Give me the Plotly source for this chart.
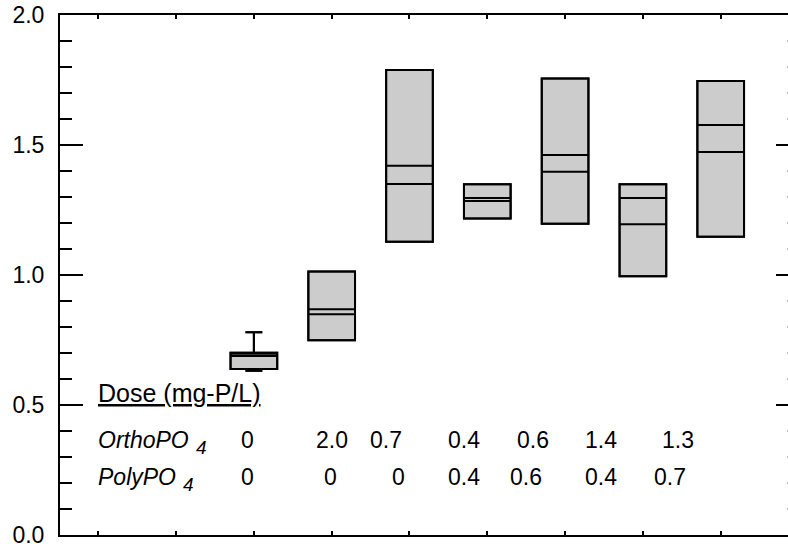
import plotly.graph_objects as go

# Treatment slots on the horizontal axis (one box per treatment)
slots = [2, 3, 4, 5, 6, 7, 8]

# Box statistics per treatment
q1 = [0.638, 0.749, 1.128, 1.217, 1.197, 0.995, 1.147]
q3 = [0.701, 1.013, 1.788, 1.349, 1.756, 1.349, 1.746]
center_upper = [0.700, 0.868, 1.420, 1.296, 1.462, 1.296, 1.577]
center_lower = [0.688, 0.849, 1.350, 1.285, 1.397, 1.195, 1.473]
lower_fence = [0.632, 0.749, 1.128, 1.217, 1.197, 0.995, 1.147]
upper_fence = [0.780, 1.013, 1.788, 1.349, 1.756, 1.349, 1.746]

# Dose table drawn inside the plot
ortho_doses = ["0", "2.0", "0.7", "0.4", "0.6", "1.4", "1.3"]
poly_doses = ["0", "0", "0", "0.4", "0.6", "0.4", "0.7"]
y_ticks = [0.0, 0.5, 1.0, 1.5, 2.0]

# Layout positions of the dose table text (axis units)
ortho_x = [1.92, 3.0, 3.70, 4.70, 5.59, 6.46, 7.45]
poly_x = [1.92, 2.98, 3.86, 4.70, 5.50, 6.46, 7.35]
header_y, ortho_y, poly_y = 0.545, 0.365, 0.224
row_label_x = -0.035

FONT = "Liberation Sans, Arial, sans-serif"
FS = 23
BOX_FILL = "#cccccc"

fig = go.Figure()

common = dict(
    x=slots, q1=q1, q3=q3,
    lowerfence=lower_fence, upperfence=upper_fence,
    width=0.6, whiskerwidth=0.36, boxpoints=False,
    line=dict(color="black", width=2),
    showlegend=False, hoverinfo="skip",
)
fig.add_trace(go.Box(median=center_upper, fillcolor=BOX_FILL, **common))
fig.add_trace(go.Box(median=center_lower, fillcolor="rgba(0,0,0,0)", **common))
# carrier for the right-hand tick axis
fig.add_trace(go.Scatter(x=[None], y=[None], yaxis="y2", showlegend=False,
                         hoverinfo="skip"))

sub_font = dict(family=FONT, size=19, color="black")
ann = []
ann.append(dict(x=row_label_x, y=header_y, text="<u>Dose (mg-P/L)</u>",
                xanchor="left", yanchor="middle",
                font=dict(family=FONT, size=25, color="black")))
ann.append(dict(x=row_label_x, y=ortho_y, text="<i>OrthoPO</i>",
                xanchor="left", yanchor="middle"))
ann.append(dict(x=1.33, y=ortho_y - 0.030, text="<i>4</i>",
                xanchor="center", yanchor="middle", font=sub_font))
ann.append(dict(x=row_label_x, y=poly_y, text="<i>PolyPO</i>",
                xanchor="left", yanchor="middle"))
ann.append(dict(x=1.165, y=poly_y - 0.030, text="<i>4</i>",
                xanchor="center", yanchor="middle", font=sub_font))
for xv, t in zip(ortho_x, ortho_doses):
    ann.append(dict(x=xv, y=ortho_y, text=t, xanchor="center", yanchor="middle"))
for xv, t in zip(poly_x, poly_doses):
    ann.append(dict(x=xv, y=poly_y, text=t, xanchor="center", yanchor="middle"))
for a in ann:
    a.setdefault("font", dict(family=FONT, size=FS, color="black"))
    a.update(xref="x", yref="y", showarrow=False)

fig.update_layout(
    template="none",
    width=788, height=544,
    margin=dict(l=60, r=0, t=15, b=9),
    paper_bgcolor="white", plot_bgcolor="white",
    boxmode="overlay",
    font=dict(family=FONT, size=FS, color="black"),
    annotations=ann,
    xaxis=dict(
        range=[-0.492, 8.865], tickvals=list(range(10)), showticklabels=False,
        ticks="inside", ticklen=4, tickwidth=2, tickcolor="black",
        showline=True, linewidth=2, linecolor="black", mirror="ticks",
        showgrid=False, zeroline=False,
    ),
    yaxis=dict(
        range=[0, 2], tickvals=y_ticks, ticktext=[f"{v:.1f}" for v in y_ticks],
        ticks="inside", ticklen=23, tickwidth=2, tickcolor="black",
        minor=dict(dtick=0.1, ticks="inside", ticklen=12, tickwidth=2,
                   tickcolor="black", showgrid=False),
        showline=True, linewidth=2, linecolor="black", mirror=False,
        showgrid=False, zeroline=False, ticklabelstandoff=9,
        ticklabeloverflow="allow",
        tickfont=dict(family=FONT, size=FS, color="black"),
    ),
    yaxis2=dict(
        overlaying="y", side="right", anchor="x", range=[0, 2],
        tickvals=y_ticks, showticklabels=False,
        ticks="inside", ticklen=12, tickwidth=2, tickcolor="black",
        minor=dict(dtick=0.1, ticks="inside", ticklen=1, tickwidth=2,
                   tickcolor="#bbbbbb", showgrid=False),
        showline=False, showgrid=False, zeroline=False,
    ),
)

fig.write_html("out.html")
